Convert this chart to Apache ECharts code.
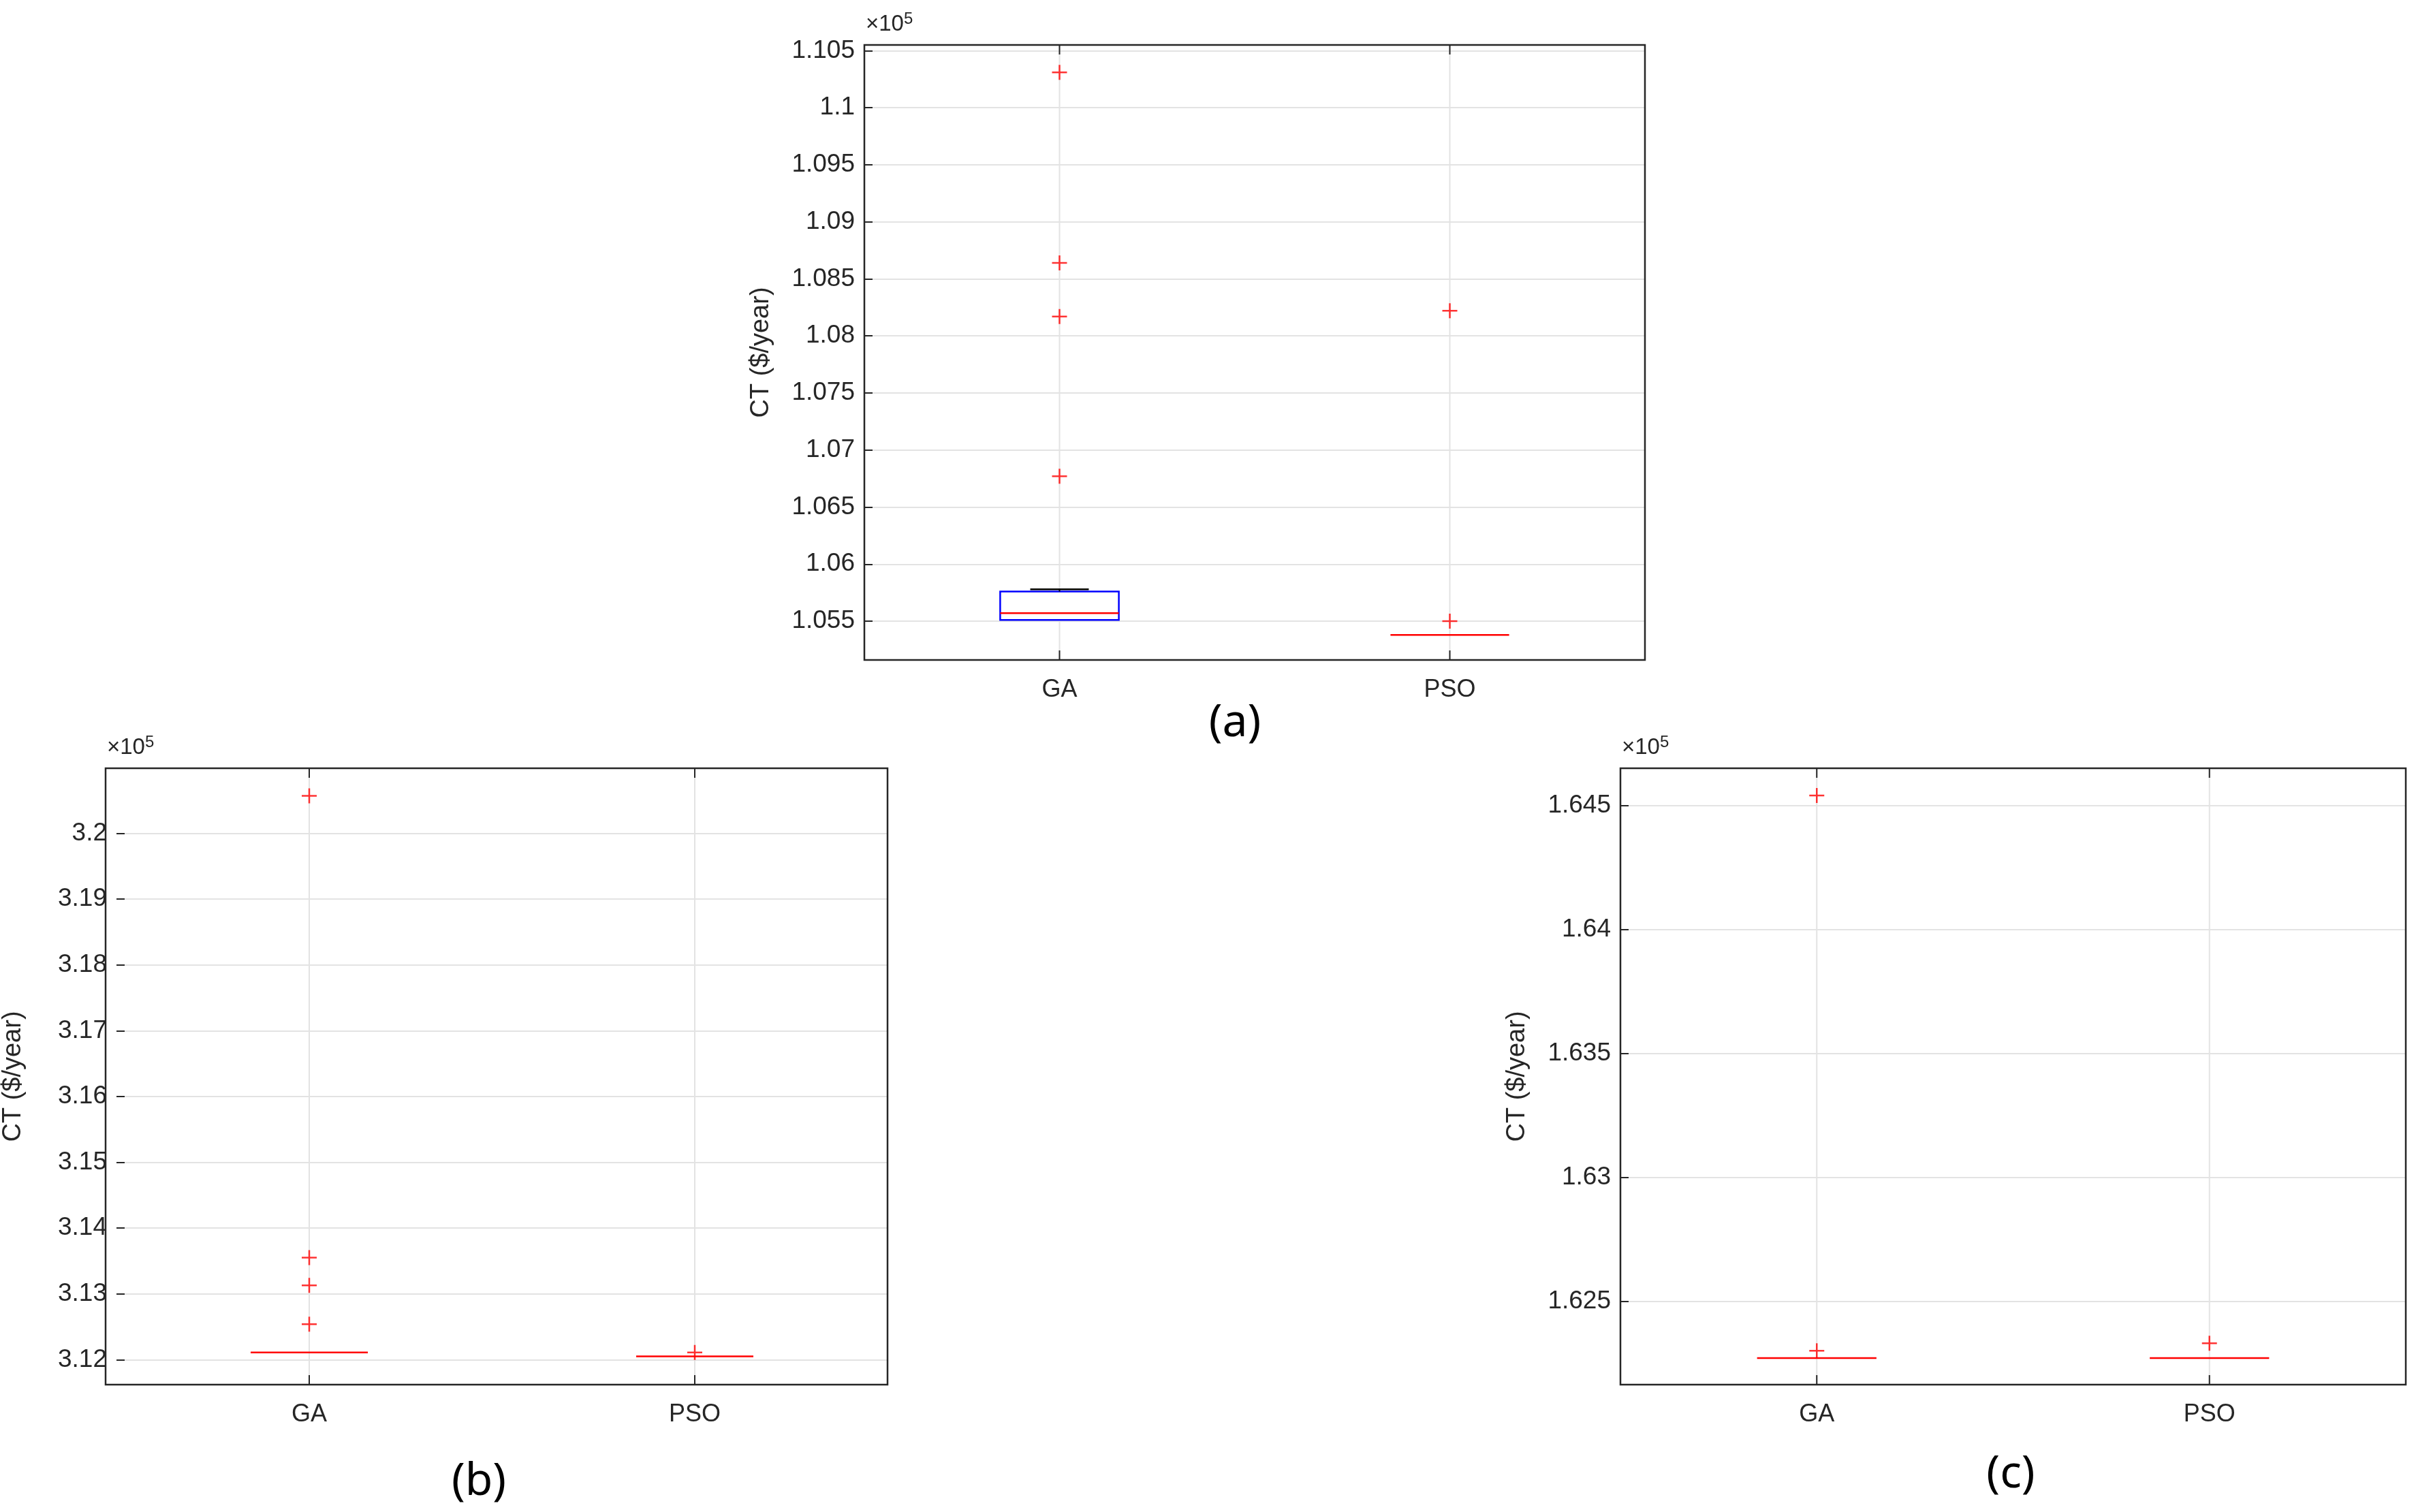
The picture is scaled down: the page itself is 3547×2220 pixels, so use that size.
<!DOCTYPE html>
<html><head><meta charset="utf-8">
<script src="https://cdn.jsdelivr.net/npm/echarts@6/dist/echarts.min.js"></script>
<style>html,body{margin:0;background:#fff}#c{width:3547px;height:2220px}</style>
</head><body><div id="c"></div>
<script>
const categories = ['GA', 'PSO'];
// box stats [lowWhisker, q1, median, q3, highWhisker] in units of 1e5
const statsA = [[1.0551, 1.0551, 1.0557, 1.0576, 1.0578], [1.0538, 1.0538, 1.0538, 1.0538, 1.0538]];
const outliersA = [[0, 1.1031], [0, 1.0864], [0, 1.0817], [0, 1.0677], [1, 1.0822], [1, 1.0550]];
const statsB = [[3.1211, 3.1211, 3.1211, 3.1211, 3.1211], [3.1205, 3.1205, 3.1205, 3.1205, 3.1205]];
const outliersB = [[0, 3.2057], [0, 3.1355], [0, 3.1313], [0, 3.1254], [1, 3.1211]];
const statsC = [[1.6227, 1.6227, 1.6227, 1.6227, 1.6227], [1.6227, 1.6227, 1.6227, 1.6227, 1.6227]];
const outliersC = [[0, 1.6454], [0, 1.6230], [1, 1.6233]];
const yRangeA = {min: 1.0516, max: 1.1055, splitNumber: 11};
const yRangeB = {min: 3.1162, max: 3.2099, splitNumber: 9};
const yRangeC = {min: 1.62163, max: 1.6465, splitNumber: 5};

const chart = echarts.init(document.getElementById('c'));
const font = 'Liberation Sans, Arial, sans-serif';
const grids = [
  {left: 1269, top: 66, width: 1146, height: 903},
  {left: 155, top: 1128, width: 1148, height: 905},
  {left: 2379, top: 1128, width: 1153, height: 905}
];
const ranges = [yRangeA, yRangeB, yRangeC];
const stats = [statsA, statsB, statsC];
const outs = [outliersA, outliersB, outliersC];

function fmt(v){ return String(parseFloat(v.toFixed(4))); }

const xAxis = grids.map((g, i) => ({
  type: 'category', data: categories, gridIndex: i, boundaryGap: true,
  axisLine: {show: false}, axisTick: {show: false},
  axisLabel: {fontSize: 36, color: '#262626', fontFamily: font, margin: 26},
  splitLine: {show: false}
}));

const yAxis = ranges.map((t, i) => ({
  type: 'value', gridIndex: i, min: t.min, max: t.max, splitNumber: t.splitNumber,
  axisLabel: {fontSize: 37, color: '#262626', fontFamily: font, margin: 14,
    formatter: v => fmt(v), showMinLabel: false, showMaxLabel: false},
  axisLine: {show: false, onZero: false},
  axisTick: {show: true, inside: true, length: 12, lineStyle: {color: '#262626', width: 2}},
  splitLine: {show: true, lineStyle: {color: '#e3e3e3', width: 2}},
  name: 'CT ($/year)', nameLocation: 'middle', nameGap: 132, nameRotate: 90,
  nameTextStyle: {fontSize: 38, color: '#262626', fontFamily: font}
}));

const series = [];
grids.forEach((g, i) => {
  series.push({
    type: 'custom', xAxisIndex: i, yAxisIndex: i, z: 5,
    data: stats[i].map((s, k) => [k].concat(s)),
    renderItem: (params, api) => {
      const x = api.value(0);
      const band = api.size([1, 0])[0];
      const hw = band * 0.152, cw = band * 0.075;
      const p = idx => api.coord([x, api.value(idx)]);
      const lo = p(1), q1 = p(2), md = p(3), q3 = p(4), hi = p(5);
      const cx = lo[0];
      const cs = params.coordSys;
      const children = [];
      children.push({type: 'line', z2: -1, shape: {x1: cx, y1: cs.y, x2: cx, y2: cs.y + cs.height}, style: {stroke: '#e3e3e3', lineWidth: 2}});
      children.push({type: 'line', shape: {x1: cx, y1: cs.y + cs.height, x2: cx, y2: cs.y + cs.height - 14}, style: {stroke: '#262626', lineWidth: 2}});
      children.push({type: 'line', shape: {x1: cx, y1: cs.y, x2: cx, y2: cs.y + 14}, style: {stroke: '#262626', lineWidth: 2}});
      const flat = Math.abs(q1[1] - q3[1]) < 0.5;
      if (!flat) {
        children.push({type: 'rect', shape: {x: cx - hw, y: q3[1], width: 2 * hw, height: q1[1] - q3[1]},
          style: {fill: '#fff', stroke: '#0000ff', lineWidth: 2.5}});
      }
      if (Math.abs(hi[1] - q3[1]) > 0.5) {
        children.push({type: 'line', shape: {x1: cx, y1: q3[1], x2: cx, y2: hi[1]}, style: {stroke: '#000', lineWidth: 2}});
        children.push({type: 'line', shape: {x1: cx - cw, y1: hi[1], x2: cx + cw, y2: hi[1]}, style: {stroke: '#000', lineWidth: 2.5}});
      }
      if (Math.abs(lo[1] - q1[1]) > 0.5) {
        children.push({type: 'line', shape: {x1: cx, y1: q1[1], x2: cx, y2: lo[1]}, style: {stroke: '#000', lineWidth: 2}});
        children.push({type: 'line', shape: {x1: cx - cw, y1: lo[1], x2: cx + cw, y2: lo[1]}, style: {stroke: '#000', lineWidth: 2.5}});
      }
      children.push({type: 'line', shape: {x1: cx - hw, y1: md[1], x2: cx + hw, y2: md[1]}, style: {stroke: '#ff0000', lineWidth: 2.5}});
      return {type: 'group', children};
    }
  });
  series.push({
    type: 'scatter', xAxisIndex: i, yAxisIndex: i, z: 6,
    data: outs[i], symbol: 'path://M0,5L10,5M5,0L5,10', symbolSize: 22,
    itemStyle: {color: 'none', borderColor: '#ff0000', borderWidth: 2.5}
  });
});

const graphic = [];
const labels = [['(a)', 1813, 1062], ['(b)', 703, 2176], ['(c)', 2952, 2165]];
labels.forEach(l => graphic.push({type: 'text', x: l[1], y: l[2],
  style: {text: l[0], fontSize: 66, fontFamily: 'Noto Sans, sans-serif', fill: '#000', textAlign: 'center', textVerticalAlign: 'middle'}}));
grids.forEach(g => {
  graphic.push({type: 'text', x: g.left + 2, y: g.top - 10,
    style: {text: '×10{s|5}', rich: {s: {fontSize: 24, verticalAlign: 'top', padding: [0,0,16,0]}}, fontSize: 33, fontFamily: font, fill: '#262626', textVerticalAlign: 'bottom'}});
  graphic.push({type: 'rect', z: 100, shape: {x: g.left, y: g.top, width: g.width, height: g.height},
    style: {fill: 'none', stroke: '#262626', lineWidth: 2.5}});
});

chart.setOption({
  animation: false,
  grid: grids,
  xAxis: xAxis,
  yAxis: yAxis,
  series: series,
  graphic: graphic
});
</script></body></html>
